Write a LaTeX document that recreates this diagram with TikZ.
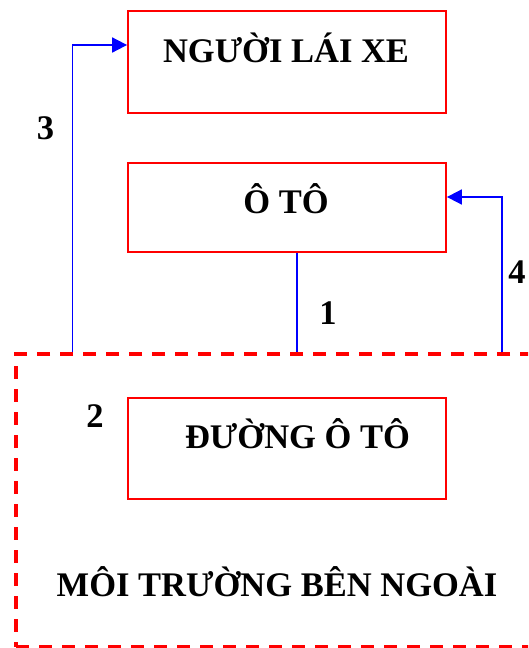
\documentclass[tikz,border=0pt]{standalone}
\usepackage{fontspec}
\setmainfont{Liberation Serif}
\usetikzlibrary{arrows.meta}
\begin{document}
\begin{tikzpicture}[x=1pt,y=-1pt,
  redbox/.style={draw=red,line width=1.8pt,minimum width=318pt,inner sep=0pt},
  envbox/.style={draw=red,line width=3.2pt,dash pattern=on 13pt off 10pt,inner sep=0pt},
  lbl/.style={anchor=base,inner sep=0pt,font=\fontsize{34.5}{40}\selectfont\bfseries},
  conn/.style={draw=blue,line width=1.8pt},
  arr/.style={conn,-{Triangle[length=15pt,width=15pt]}}]
\path[use as bounding box,clip] (0,0) rectangle (528,648);
% boxes
\node[redbox,minimum height=102pt] (driver) at (287,62) {};
\node[redbox,minimum height=89pt] (car) at (287,207.5) {};
\node[redbox,minimum height=101pt] (road) at (287,448.5) {};
\node[envbox,minimum width=526pt,minimum height=293pt] (env) at (279,500.5) {};
% texts
\node[lbl] (tdriver) at (286,62) {NGƯỜI LÁI XE};
\node[lbl] (tcar) at (286,213) {Ô TÔ};
\node[lbl] (troad) at (297.5,448) {ĐƯỜNG Ô TÔ};
\node[lbl] (tenv) at (277,596) {MÔI TRƯỜNG BÊN NGOÀI};
\node[lbl] (n3) at (45.5,139) {3};
\node[lbl] (n1) at (328,324) {1};
\node[lbl] (n4) at (517,283) {4};
\node[lbl] (n2) at (95,427) {2};
% connectors
\coordinate (c3) at (72.5,45);
\coordinate (c1) at (297,0);
\coordinate (c4) at (502,197);
\draw[arr] (c3 |- env.north) -- (c3) -- (c3 -| driver.west);
\draw[conn] (c1 |- car.south) -- (c1 |- env.north);
\draw[arr] (c4 |- env.north) -- (c4) -- (c4 -| car.east);
\end{tikzpicture}
\end{document}
